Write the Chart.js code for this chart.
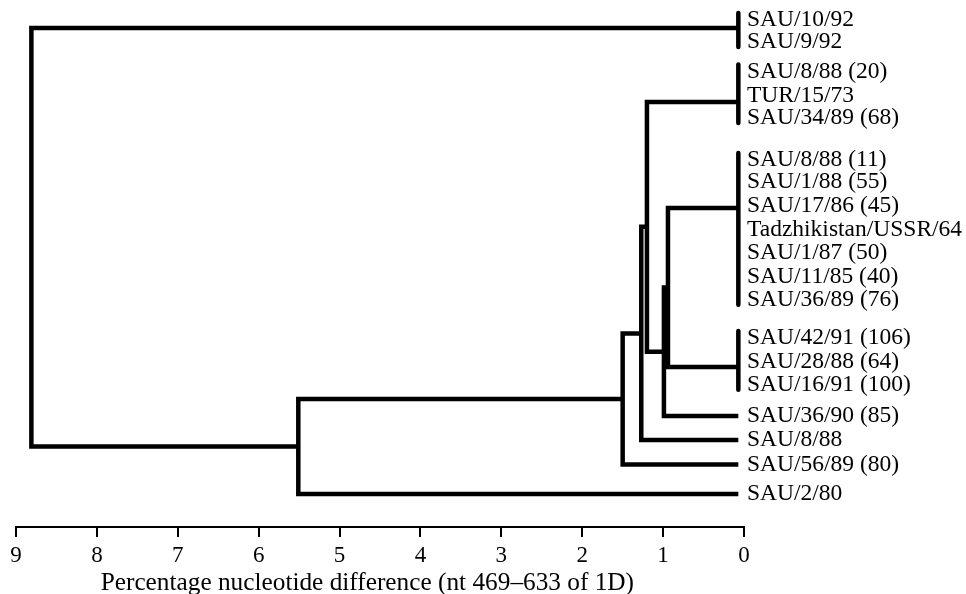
<!DOCTYPE html>
<html>
<head>
<meta charset="utf-8">
<script src="https://cdn.jsdelivr.net/npm/chart.js@4.4.0/dist/chart.umd.min.js"></script>
<style>
  html, body { margin: 0; padding: 0; background: #fff; }
  #wrap { width: 966px; height: 594px; position: relative; }
</style>
</head>
<body>
<div id="wrap"><canvas id="c"></canvas></div>
<script>
// ---- Data ----
// Leaf labels, top to bottom
const leafLabels = [
  "SAU/10/92", "SAU/9/92",
  "SAU/8/88 (20)", "TUR/15/73", "SAU/34/89 (68)",
  "SAU/8/88 (11)", "SAU/1/88 (55)", "SAU/17/86 (45)", "Tadzhikistan/USSR/64",
  "SAU/1/87 (50)", "SAU/11/85 (40)", "SAU/36/89 (76)",
  "SAU/42/91 (106)", "SAU/28/88 (64)", "SAU/16/91 (100)",
  "SAU/36/90 (85)", "SAU/8/88", "SAU/56/89 (80)", "SAU/2/80"
];
// Row position of each leaf (row units, top = 0)
const leafRows = [0, 0.95, 2.2, 3.22, 4.2, 5.98, 6.92, 7.95, 8.97, 9.96, 10.98, 11.97,
                  13.59, 14.6, 15.6, 16.92, 17.95, 19.0, 20.26];

// Zero-distance clusters of identical sequences: first leaf, last leaf, join row
const clusterFirst  = [0, 2, 5, 12];
const clusterLast   = [1, 4, 11, 14];
const clusterJoinRow = [0.34, 3.5, 8.03, 14.83];
const tipDistance = 0.07;   // distance at which the leaf bars sit

// Internal nodes: distance (percentage nucleotide difference) and two children.
// Children: "c0".."c3" = clusters, "l15".. = single leaves, "n0".. = nodes
const nodeNames     = ["E", "F", "C", "B", "G", "H", "Root"];
const nodeDistance  = [0.94, 0.99, 1.20, 1.27, 1.50, 5.51, 8.81];
const nodeChildA    = ["c2", "n0", "c1", "n2", "n3", "n4", "c0"];
const nodeChildB    = ["c3", "l15", "n1", "l16", "l17", "l18", "n5"];

// Axis ticks
const xTicks = [0, 1, 2, 3, 4, 5, 6, 7, 8, 9];
const xTitle = "Percentage nucleotide difference (nt 469\u2013633 of 1D)";

// ---- Build line segments from the tree ----
const anchor = {}; // key -> {x, y}
clusterFirst.forEach((f, i) => { anchor["c" + i] = { x: tipDistance, y: clusterJoinRow[i] }; });
leafLabels.forEach((_, i) => { anchor["l" + i] = { x: tipDistance, y: leafRows[i] }; });

const ink = "#000";
const datasets = [];
const lineStyle = {
  showLine: true, pointRadius: 0, borderColor: ink, borderWidth: 4.5,
  tension: 0, clip: false, borderJoinStyle: "miter", borderCapStyle: "butt"
};

// cluster bars
clusterFirst.forEach((f, i) => {
  datasets.push(Object.assign({}, lineStyle, {
    borderCapStyle: "round",
    data: [{ x: tipDistance, y: leafRows[f] - 0.3 }, { x: tipDistance, y: leafRows[clusterLast[i]] + 0.2 }]
  }));
});

// nodes (bracket from child A to child B)
nodeNames.forEach((nm, i) => {
  const a = anchor[nodeChildA[i]], b = anchor[nodeChildB[i]];
  const d = nodeDistance[i];
  datasets.push(Object.assign({}, lineStyle, {
    data: [{ x: a.x, y: a.y }, { x: d, y: a.y }, { x: d, y: b.y }, { x: b.x, y: b.y }]
  }));
  anchor["n" + i] = { x: d, y: (a.y + b.y) / 2 };
});

const serif = "'Liberation Serif', 'DejaVu Serif', serif";

new Chart(document.getElementById("c"), {
  type: "scatter",
  data: { datasets },
  options: {
    responsive: true,
    maintainAspectRatio: false,
    animation: false,
    layout: { padding: { left: 16, right: 0, top: 0, bottom: 0 } },
    plugins: { legend: { display: false }, tooltip: { enabled: false } },
    scales: {
      x: {
        type: "linear", position: "bottom", min: 0, max: 9, reverse: true,
        afterBuildTicks: (s) => { s.ticks = xTicks.map(v => ({ value: v })); },
        afterFit: (s) => { s.height = 67; s.paddingLeft = 0; s.paddingRight = 0; },
        ticks: { color: ink, font: { family: serif, size: 23 }, padding: 5, maxRotation: 0 },
        grid: { drawOnChartArea: false, drawTicks: true, tickLength: 10, color: ink, lineWidth: 2 },
        border: { display: true, color: ink, width: 2 },
        title: { display: true, text: xTitle + "\u2003", color: ink,
                 font: { family: serif, size: 25.3, lineHeight: 0.85 }, padding: { top: 0, bottom: 0 } }
      },
      y: {
        type: "linear", position: "right", reverse: true, min: -0.855, max: 21.667,
        afterBuildTicks: (s) => { s.ticks = leafRows.map(v => ({ value: v })); },
        afterFit: (s) => { s.width = 222; s.paddingTop = 0; s.paddingBottom = 0; },
        ticks: {
          color: ink, font: { family: serif, size: 23.5 }, padding: 3, autoSkip: false,
          callback: (v, i) => leafLabels[i]
        },
        grid: { display: false, drawTicks: false },
        border: { display: false }
      }
    }
  }
});
</script>
</body>
</html>
